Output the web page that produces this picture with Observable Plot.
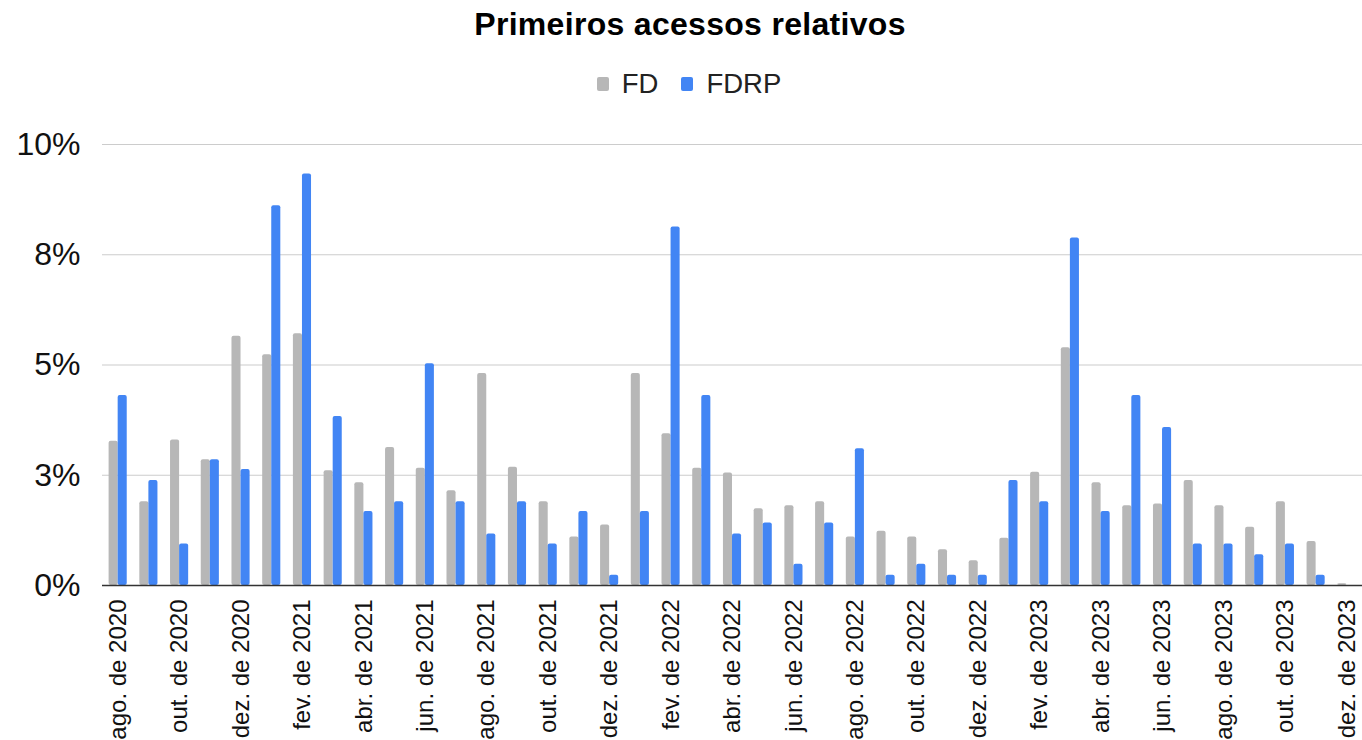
<!DOCTYPE html>
<html>
<head>
<meta charset="utf-8">
<script src="https://cdn.jsdelivr.net/npm/d3@7"></script>
<script src="https://cdn.jsdelivr.net/npm/@observablehq/plot@0.6"></script>
<style>
  html, body { margin: 0; padding: 0; background: #fff; }
  body { width: 1362px; height: 740px; overflow: hidden; font-family: "Liberation Sans", Arial, sans-serif; }
  #title { height: 46px; line-height: 48px; text-align: center; font-weight: bold; font-size: 32px; letter-spacing: 0.3px; color: #000; padding-left: 18px; }
  #legend { height: 76px; display: flex; justify-content: center; align-items: center; font-size: 27.5px; color: #222; padding-left: 16px; }
  .item { display: flex; align-items: center; }
  .item + .item { margin-left: 23px; }
  .sw { width: 12px; height: 14px; border-radius: 2px; margin-right: 13px; }
</style>
</head>
<body>
<div id="title">Primeiros acessos relativos</div>
<div id="legend"></div>
<div id="chart"></div>
<script>
const months = [
  "ago. de 2020","set. de 2020","out. de 2020","nov. de 2020","dez. de 2020",
  "jan. de 2021","fev. de 2021","mar. de 2021","abr. de 2021","mai. de 2021","jun. de 2021",
  "jul. de 2021","ago. de 2021","set. de 2021","out. de 2021","nov. de 2021","dez. de 2021",
  "jan. de 2022","fev. de 2022","mar. de 2022","abr. de 2022","mai. de 2022","jun. de 2022",
  "jul. de 2022","ago. de 2022","set. de 2022","out. de 2022","nov. de 2022","dez. de 2022",
  "jan. de 2023","fev. de 2023","mar. de 2023","abr. de 2023","mai. de 2023","jun. de 2023",
  "jul. de 2023","ago. de 2023","set. de 2023","out. de 2023","nov. de 2023","dez. de 2023"
];
const xTickLabels = [
  "ago. de 2020","out. de 2020","dez. de 2020","fev. de 2021","abr. de 2021","jun. de 2021",
  "ago. de 2021","out. de 2021","dez. de 2021","fev. de 2022","abr. de 2022","jun. de 2022",
  "ago. de 2022","out. de 2022","dez. de 2022","fev. de 2023","abr. de 2023","jun. de 2023",
  "ago. de 2023","out. de 2023","dez. de 2023"
];
const fd = [3.27,1.90,3.30,2.85,5.65,5.23,5.71,2.60,2.33,3.13,2.66,
            2.15,4.81,2.68,1.90,1.10,1.37,4.81,3.44,2.66,2.55,1.74,
            1.81,1.90,1.10,1.23,1.10,0.81,0.56,1.07,2.57,5.39,
            2.33,1.81,1.85,2.38,1.81,1.32,1.90,1.00,0.04];
const fdrp = [4.31,2.38,0.94,2.85,2.63,8.61,9.33,3.83,1.68,1.90,5.03,
              1.90,1.17,1.90,0.94,1.68,0.23,1.68,8.13,4.31,1.17,1.42,
              0.48,1.42,3.10,0.23,0.48,0.23,0.23,2.38,1.90,7.88,
              1.68,4.31,3.58,0.94,0.94,0.70,0.94,0.23,0];
const yTicks = [0, 2.5, 5, 7.5, 10];
const series = ["FD", "FDRP"];
const colors = ["#b7b7b7", "#4285f4"];

// legend
const legend = document.getElementById("legend");
series.forEach((s, i) => {
  const it = document.createElement("div");
  it.className = "item";
  it.innerHTML = `<span class="sw" style="background:${colors[i]}"></span><span>${s}</span>`;
  legend.appendChild(it);
});

const W = 1362, H = 618, ML = 102, MR = 0;
const pIn = 0.41, pOut = 0.215;
const bw = d3.scaleBand().domain(months).range([ML, W - MR]).paddingInner(pIn).paddingOuter(pOut).align(0.5).bandwidth();

const rows = months.map((m, i) => ({month: m, fd: fd[i], fdrp: fdrp[i]}));

const chart = Plot.plot({
  width: W,
  height: H,
  marginLeft: ML,
  marginRight: MR,
  marginTop: 22,
  marginBottom: 155,
  style: {fontFamily: "'Liberation Sans', Arial, sans-serif", background: "#fff", color: "#000"},
  x: {domain: months, paddingInner: pIn, paddingOuter: pOut, align: 0.5, round: false, axis: null},
  y: {domain: [0, 10], axis: null},
  marks: [
    Plot.gridY(yTicks, {stroke: "#cccccc", strokeOpacity: 1, strokeWidth: 1.2}),
    Plot.axisY(yTicks, {tickSize: 0, tickPadding: 22, fontSize: 32, tickFormat: d => Math.round(d) + "%", fill: "#111", label: null}),
    Plot.axisX(xTickLabels, {tickSize: 0, tickPadding: 14, tickRotate: -90, fontSize: 24, fill: "#111", label: null}),
    Plot.barY(rows, {x: "month", y: "fd", fill: colors[0], insetLeft: 0, insetRight: bw / 2, rx: 2}),
    Plot.barY(rows, {x: "month", y: "fdrp", fill: colors[1], insetLeft: bw / 2, insetRight: 0, rx: 2}),
    Plot.ruleY([0], {stroke: "#333", strokeWidth: 1.5})
  ]
});
document.getElementById("chart").appendChild(chart);
</script>
</body>
</html>
